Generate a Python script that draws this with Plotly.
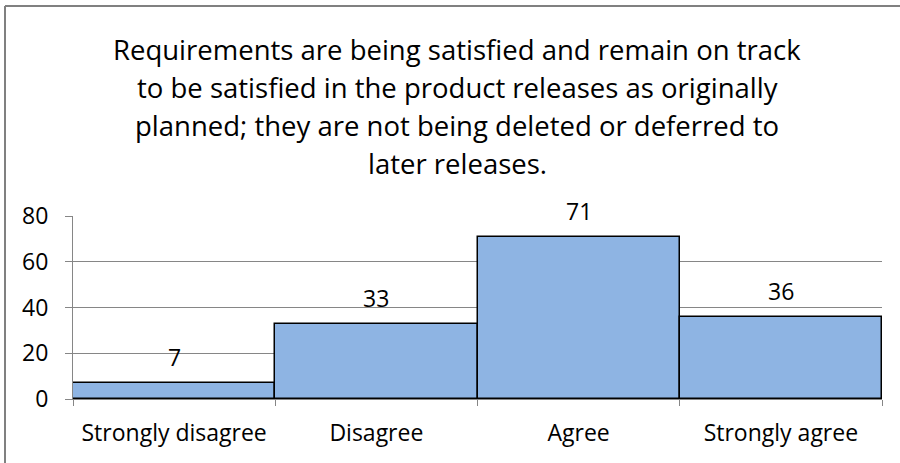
import plotly.graph_objects as go

categories = ["Strongly disagree", "Disagree", "Agree", "Strongly agree"]
values = [7, 33, 71, 36]
y_ticks = [0, 20, 40, 60, 80]
title_lines = [
    "Requirements are being satisfied and remain on track",
    "to be satisfied in the product releases as originally",
    "planned; they are not being deleted or deferred to",
    "later releases.",
]

FONT = "Open Sans"
W, H = 900, 463
L, R, T, B = 73, 18, 216, 64
pw, ph = W - L - R, H - T - B

fig = go.Figure(go.Bar(
    x=categories, y=values,
    marker=dict(color="#8EB4E3", line=dict(color="#000000", width=1.5)),
    width=1.0,
))

ann = []
for c, v in zip(categories, values):
    ann.append(dict(x=c, y=v, xref="x", yref="y", text=str(v), showarrow=False,
                    yanchor="middle", yshift=26, font=dict(size=23, color="#000", family=FONT)))
centers = [49, 87, 125, 163]
for t, yc in zip(title_lines, centers):
    ann.append(dict(x=(457 - L) / pw, y=1, xref="paper", yref="paper", text=t, showarrow=False,
                    xanchor="center", yanchor="middle", yshift=T - yc,
                    font=dict(size=27.5, color="#000", family=FONT)))

fx0 = (5 - L) / pw
fx1 = (W - L) / pw
fy0 = (T + ph - H) / ph
fy1 = (T + ph - 6) / ph
frame = dict(color="#808080", width=2)

fig.update_layout(
    width=W, height=H,
    margin=dict(l=L, r=R, t=T, b=B),
    paper_bgcolor="white", plot_bgcolor="white",
    showlegend=False,
    bargap=0,
    annotations=ann,
    font=dict(family=FONT, color="#000"),
    shapes=[
        dict(type="line", xref="paper", yref="paper", x0=fx0, x1=fx0, y0=fy0, y1=fy1, line=frame, layer="below"),
        dict(type="line", xref="paper", yref="paper", x0=fx0, x1=fx1, y0=fy1, y1=fy1, line=frame, layer="below"),
    ],
)
fig.update_xaxes(showgrid=False, showline=True, linecolor="#868686", linewidth=1,
                 ticks="outside", tickson="boundaries", ticklen=6, tickcolor="#868686",
                 tickfont=dict(size=23, family=FONT, color="#000"), ticklabelstandoff=13)
fig.update_yaxes(range=[0, 80], tickvals=y_ticks, showgrid=True, gridcolor="#868686", gridwidth=1,
                 showline=True, linecolor="#868686", linewidth=1, zeroline=False,
                 ticks="outside", ticklen=7, tickcolor="#868686",
                 tickfont=dict(size=23, family=FONT, color="#000"), ticklabelstandoff=12)

fig.write_html("out.html", config={"displayModeBar": False},
               post_script="document.body.style.margin='0';document.body.style.overflow='hidden';")
